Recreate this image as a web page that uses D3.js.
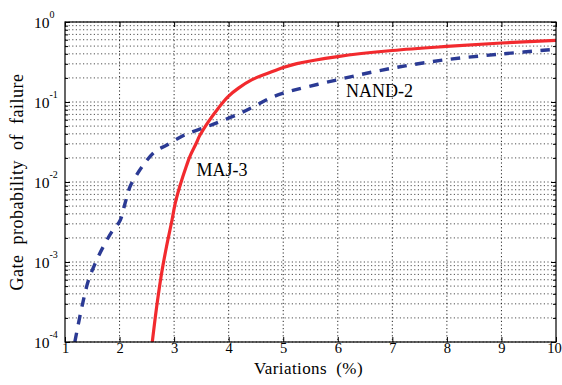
<!DOCTYPE html>
<html><head><meta charset="utf-8">
<script src="https://cdn.jsdelivr.net/npm/d3@7"></script>
<style>
html,body{margin:0;padding:0;background:#fff;}
svg{display:block;}
text{font-family:"Liberation Serif","DejaVu Serif",serif;}
</style></head>
<body><svg id="c" width="562" height="385"></svg>
<script>
// ---- data ----
const xTicks = [1,2,3,4,5,6,7,8,9,10];
const yDecades = [1e-4,1e-3,1e-2,1e-1,1];
const yExponents = ["-4","-3","-2","-1","0"];

const maj3X = [2.60,2.68,2.77,2.86,2.96,3.02,3.11,3.23,3.29,3.41,3.47,3.63,3.81,3.99,4.18,4.42,4.73,5.0,5.25,6.0,7.0,8.0,9.0,10];
const maj3Y = [1e-4,2.75e-4,7.2e-4,1.55e-3,3.3e-3,5.4e-3,9.1e-3,0.0162,0.0209,0.0309,0.038,0.0569,0.0838,0.117,0.149,0.189,0.23,0.27,0.302,0.37,0.44,0.495,0.546,0.59];

const nand2X = [1.18,1.31,1.43,1.55,1.70,1.86,2.01,2.10,2.19,2.28,2.41,2.65,2.86,3.20,3.60,3.84,4.15,4.45,4.76,5.0,6.0,7.0,8.0,9.0,10];
const nand2Y = [1e-4,2.75e-4,5.9e-4,9.5e-4,1.55e-3,2.4e-3,3.3e-3,5.4e-3,8.7e-3,0.0112,0.0155,0.024,0.0288,0.0389,0.049,0.0569,0.0692,0.087,0.112,0.129,0.19,0.265,0.339,0.398,0.457];

const xTitle = "Variations\u00a0 (%)";
const yTitle = "Gate\u00a0 probability\u00a0 of\u00a0 failure";

// ---- layout ----
const FONT = "Liberation Serif";
const m = {l:65, t:22, r:6, b:43};
const W = 562, H = 385;
const w = W - m.l - m.r, h = H - m.t - m.b;
const svg = d3.select("#c");
const g = svg.append("g").attr("transform",`translate(${m.l},${m.t})`);

const x = d3.scaleLinear().domain([1,10]).range([0,w]);
const y = d3.scaleLog().domain([1e-4,1]).range([h,0]);

// minor values
const minorY = [];
yDecades.slice(0,-1).forEach(d=>{ for(let k=2;k<=9;k++) minorY.push(d*k); });

// grid
const grid = g.append("g");
grid.selectAll("line.hy").data(yDecades.concat(minorY)).join("line")
  .attr("x1",0).attr("x2",w).attr("y1",d=>y(d)).attr("y2",d=>y(d))
  .attr("stroke","#222").attr("stroke-width",0.8).attr("stroke-dasharray","1.2,2.4");
grid.selectAll("line.vx").data(xTicks.slice(1,-1)).join("line")
  .attr("y1",0).attr("y2",h).attr("x1",d=>x(d)).attr("x2",d=>x(d))
  .attr("stroke","#111").attr("stroke-width",0.9).attr("stroke-dasharray","1.2,2.4");

// axes with inward ticks
const axB = d3.axisBottom(x).tickValues(xTicks).tickSize(-5).tickPadding(1).tickFormat(d3.format("d"));
const axT = d3.axisTop(x).tickValues(xTicks).tickSize(-5).tickFormat("");
const axL = d3.axisLeft(y).tickValues(yDecades).tickSize(-5).tickFormat("");
const axR = d3.axisRight(y).tickValues(yDecades).tickSize(-5).tickFormat("");
const axLm = d3.axisLeft(y).tickValues(minorY).tickSize(-3).tickFormat("");
const axRm = d3.axisRight(y).tickValues(minorY).tickSize(-3).tickFormat("");

function styleAx(sel){
  sel.attr("font-family",FONT);
  sel.select(".domain").remove();
  sel.selectAll(".tick line").attr("stroke","#000").attr("stroke-width",1);
}
const gb = g.append("g").attr("transform",`translate(0,${h})`).call(axB).call(styleAx);
gb.attr("font-size",14.5);
gb.selectAll(".tick text").attr("font-size",14.5).attr("fill","#000").attr("font-family",FONT);
gb.selectAll(".tick").filter(d=>d===10).select("text").attr("dx",-2);
g.append("g").call(axT).call(styleAx);
g.append("g").call(axL).call(styleAx);
g.append("g").call(axLm).call(styleAx);
g.append("g").attr("transform",`translate(${w},0)`).call(axR).call(styleAx);
g.append("g").attr("transform",`translate(${w},0)`).call(axRm).call(styleAx);

// y tick labels 10^n
const yl = g.append("g").attr("font-family",FONT);
yDecades.forEach((d,i)=>{
  const t = yl.append("text").attr("x",-31).attr("y",y(d)+6)
    .attr("font-family",FONT).attr("font-size",15.5).attr("fill","#000");
  t.append("tspan").text("10");
  t.append("tspan").attr("dy",-10).attr("font-size",10).text(yExponents[i]);
});

// curves
svg.append("clipPath").attr("id","clip").append("rect")
  .attr("x",0).attr("y",0).attr("width",w).attr("height",h);
const line = d3.line().x(d=>x(d[0])).y(d=>y(d[1])).curve(d3.curveCatmullRom.alpha(0.5));
const cg = g.append("g").attr("clip-path","url(#clip)");
cg.append("path").datum(nand2X.map((v,i)=>[v,nand2Y[i]]))
  .attr("d",line).attr("fill","none").attr("stroke","#2b3a94")
  .attr("stroke-width",3.4).attr("stroke-dasharray","9.5,8.5");
cg.append("path").datum(maj3X.map((v,i)=>[v,maj3Y[i]]))
  .attr("d",line).attr("fill","none").attr("stroke","#f22a2e")
  .attr("stroke-width",3.2);

// frame
g.append("rect").attr("x",0).attr("y",0).attr("width",w).attr("height",h)
  .attr("fill","none").attr("stroke","#000").attr("stroke-width",1.2);

// series labels
g.append("text").attr("x",x(3.41)).attr("y",y(0.0119)).attr("font-family",FONT).attr("font-size",18).attr("fill","#000").text("MAJ-3");
g.append("text").attr("x",x(6.15)).attr("y",y(0.116)).attr("font-family",FONT).attr("font-size",18).attr("fill","#000").text("NAND-2");

// axis titles
svg.append("text").attr("x",m.l + w/2 - 2).attr("y",374).attr("text-anchor","middle")
  .attr("font-family",FONT).attr("font-size",17).attr("letter-spacing",0.4).attr("fill","#000").text(xTitle);
svg.append("text").attr("transform",`translate(23,${m.t+h/2}) rotate(-90)`)
  .attr("text-anchor","middle").attr("font-family",FONT).attr("font-size",18).attr("letter-spacing",0.5).attr("fill","#000").text(yTitle);
</script></body></html>
